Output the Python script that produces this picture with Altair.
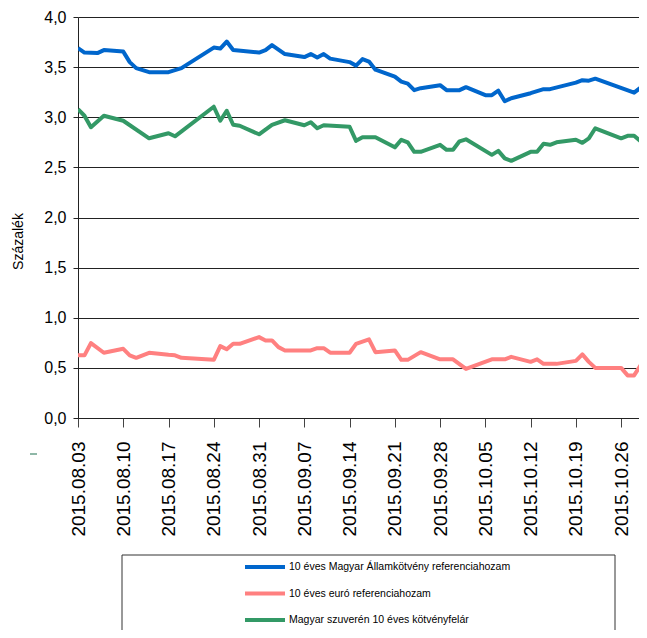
import altair as alt
import pandas as pd

series_names = [
    "10 éves Magyar Államkötvény referenciahozam",
    "10 éves euró referenciahozam",
    "Magyar szuverén 10 éves kötvényfelár",
]
series_colors = ["#0066CC", "#FF8080", "#339966"]

blue_dates = ["08.03", "08.04", "08.06", "08.07", "08.10", "08.11", "08.12", "08.14", "08.17", "08.19",
              "08.24", "08.25", "08.26", "08.27", "08.31", "09.01", "09.02", "09.04", "09.07", "09.08",
              "09.09", "09.10", "09.11", "09.14", "09.15", "09.16", "09.17", "09.18", "09.21", "09.22",
              "09.23", "09.24", "09.25", "09.28", "09.29", "10.01", "10.02", "10.05", "10.06", "10.07",
              "10.08", "10.09", "10.12", "10.14", "10.15", "10.19", "10.20", "10.21", "10.22", "10.28",
              "10.30"]
blue_vals = [3.69, 3.645, 3.64, 3.67, 3.655, 3.55, 3.49, 3.45, 3.45, 3.49,
             3.695, 3.685, 3.755, 3.67, 3.645, 3.67, 3.72, 3.63, 3.60, 3.63,
             3.595, 3.63, 3.585, 3.55, 3.515, 3.58, 3.555, 3.475, 3.405, 3.355,
             3.335, 3.27, 3.29, 3.32, 3.27, 3.27, 3.30, 3.22, 3.22, 3.265,
             3.16, 3.19, 3.24, 3.28, 3.28, 3.345, 3.37, 3.365, 3.385, 3.245,
             3.345]

pink_dates = ["08.03", "08.04", "08.05", "08.07", "08.10", "08.11", "08.12", "08.14", "08.17", "08.18",
              "08.19", "08.24", "08.25", "08.26", "08.27", "08.28", "08.31", "09.01", "09.02", "09.03",
              "09.04", "09.08", "09.09", "09.10", "09.11", "09.14", "09.15", "09.17", "09.18", "09.21",
              "09.22", "09.23", "09.25", "09.28", "09.30", "10.02", "10.06", "10.08", "10.09", "10.12",
              "10.13", "10.14", "10.16", "10.19", "10.20", "10.21", "10.22", "10.26", "10.27", "10.28",
              "10.29", "10.30"]
pink_vals = [0.625, 0.625, 0.747, 0.651, 0.69, 0.625, 0.60, 0.65, 0.63, 0.625,
             0.60, 0.58, 0.717, 0.685, 0.74, 0.74, 0.807, 0.774, 0.774, 0.707,
             0.674, 0.674, 0.697, 0.697, 0.651, 0.651, 0.74, 0.784, 0.657, 0.674,
             0.58, 0.58, 0.657, 0.585, 0.585, 0.49, 0.585, 0.585, 0.61, 0.56,
             0.585, 0.54, 0.54, 0.57, 0.635, 0.56, 0.50, 0.50, 0.425, 0.425,
             0.525, 0.525]

green_dates = ["08.03", "08.04", "08.05", "08.07", "08.10", "08.14", "08.17", "08.18", "08.24", "08.25",
               "08.26", "08.27", "08.28", "08.31", "09.02", "09.04", "09.07", "09.08", "09.09", "09.10",
               "09.14", "09.15", "09.16", "09.18", "09.21", "09.22", "09.23", "09.24", "09.25", "09.28",
               "09.29", "09.30", "10.01", "10.02", "10.06", "10.07", "10.08", "10.09", "10.12", "10.13",
               "10.14", "10.15", "10.16", "10.19", "10.20", "10.21", "10.22", "10.26", "10.27", "10.28",
               "10.29", "10.30"]
green_vals = [3.08, 3.015, 2.90, 3.015, 2.965, 2.79, 2.84, 2.81, 3.105, 2.965,
              3.065, 2.925, 2.915, 2.83, 2.925, 2.97, 2.92, 2.95, 2.89, 2.92,
              2.905, 2.765, 2.80, 2.80, 2.70, 2.775, 2.75, 2.655, 2.655, 2.725,
              2.675, 2.675, 2.76, 2.78, 2.625, 2.665, 2.59, 2.565, 2.655, 2.655,
              2.735, 2.725, 2.75, 2.775, 2.745, 2.79, 2.89, 2.79, 2.815, 2.815,
              2.76, 2.84]

tick_labels = ["2015.08.03", "2015.08.10", "2015.08.17", "2015.08.24", "2015.08.31", "2015.09.07",
               "2015.09.14", "2015.09.21", "2015.09.28", "2015.10.05", "2015.10.12", "2015.10.19",
               "2015.10.26"]
y_ticks = [0, 0.5, 1.0, 1.5, 2.0, 2.5, 3.0, 3.5, 4.0]

rows = []
for name, dates, vals in zip(series_names, [blue_dates, pink_dates, green_dates],
                             [blue_vals, pink_vals, green_vals]):
    for d, v in zip(dates, vals):
        m, dd = d.split(".")
        rows.append({"series": name, "date": f"2015-{m}-{dd}T00:00:00", "value": v})
df = pd.DataFrame(rows)


def to_dt(s):
    y, m, d = s.split(".")
    return alt.DateTime(year=int(y), month=int(m), date=int(d))


# visible window: the reference crops the plot at the right edge of the page
x_domain = [alt.DateTime(year=2015, month=8, date=3),
            alt.DateTime(year=2015, month=10, date=28, hours=18, minutes=14)]

REG = "Liberation Sans, Arial, sans-serif"

color_scale = alt.Scale(domain=series_names, range=series_colors)

lines = alt.Chart(df).mark_line(strokeWidth=4, clip=True, strokeJoin="round").encode(
    x=alt.X("date:T",
            scale=alt.Scale(domain=x_domain),
            axis=alt.Axis(values=[to_dt(t) for t in tick_labels], format="%Y.%m.%d",
                          labelAngle=270, labelFont=REG, labelFontSize=19, labelColor="#000",
                          tickSize=9, tickColor="#444", domainColor="#222", grid=False,
                          title=None, labelPadding=14, labelOverlap=False, labelFlush=False)),
    y=alt.Y("value:Q",
            scale=alt.Scale(domain=[0, 4], nice=False, zero=False),
            axis=alt.Axis(values=y_ticks,
                          labelExpr="replace(format(datum.value, '.1f'), '.', ',')",
                          grid=True, gridColor="#222", gridWidth=1, domainColor="#222",
                          tickSize=5, tickColor="#222", labelFont=REG, labelFontSize=16,
                          labelColor="#000", labelPadding=7,
                          title="Százalék", titleFont=REG, titleFontSize=14,
                          titleFontWeight="normal", titleColor="#000", titleAngle=270,
                          titleX=-60, titleY=224, titleAlign="center", titleBaseline="middle")),
    color=alt.Color("series:N", scale=color_scale, legend=None),
)

legend_df = pd.DataFrame({"series": series_names})
leg_y = alt.Y("series:N", scale=alt.Scale(type="point", domain=series_names, range=[550, 603], padding=0),
              axis=None)

leg_lines = alt.Chart(legend_df).mark_rule(strokeWidth=4).encode(
    x=alt.value(167), x2=alt.value(207), y=leg_y,
    color=alt.Color("series:N", scale=color_scale, legend=None),
)
leg_text = alt.Chart(legend_df).mark_text(align="left", baseline="middle", font=REG,
                                          fontSize=10.5, color="#000").encode(
    x=alt.value(211), y=leg_y, text="series:N",
)

box_df = pd.DataFrame({"k": [0]})
box = alt.Chart(box_df).mark_rect(fillOpacity=0, stroke="#333", strokeWidth=1).encode(
    x=alt.value(44), x2=alt.value(537), y=alt.value(538), y2=alt.value(660),
)
dash = alt.Chart(box_df).mark_rule(color="#1F7050", strokeWidth=1).encode(
    x=alt.value(-48), x2=alt.value(-41), y=alt.value(437),
)

chart = alt.layer(lines, box, leg_lines, leg_text, dash).resolve_scale(
    y="independent"
).properties(
    width=561, height=401,
    padding={"left": 70, "top": 9, "right": 0, "bottom": 212},
    autosize=alt.AutoSizeParams(type="none"),
    background="white",
).configure_view(strokeWidth=0)

chart.save("out.html", embed_options={"renderer": "svg", "actions": False})
